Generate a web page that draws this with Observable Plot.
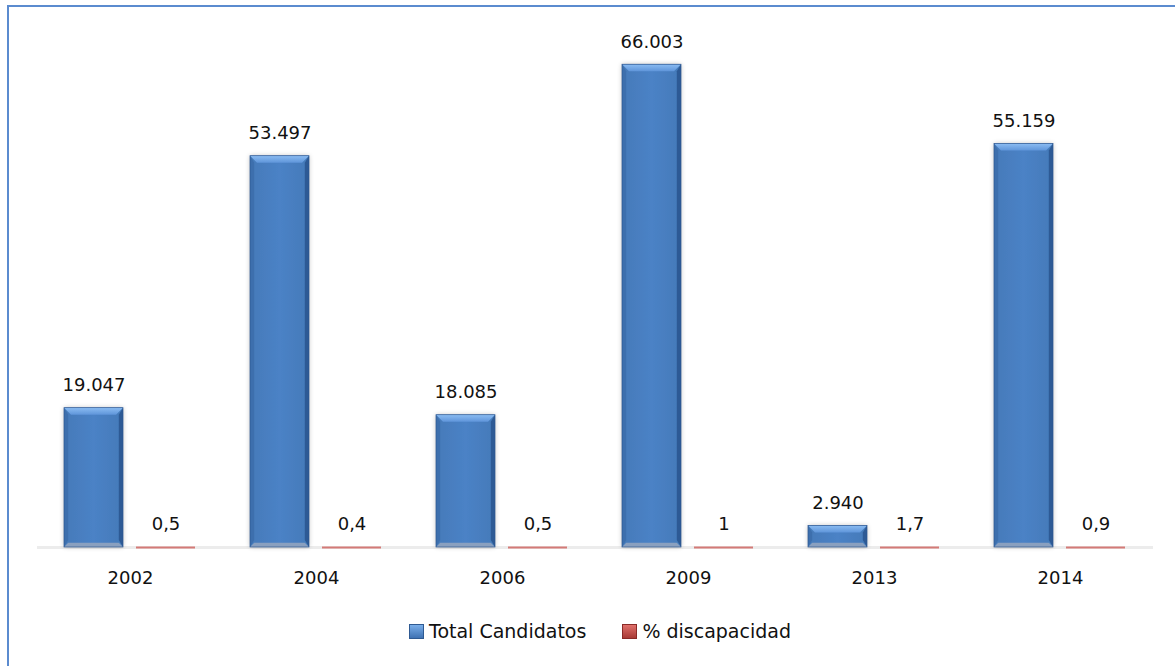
<!DOCTYPE html>
<html>
<head>
<meta charset="utf-8">
<script src="https://cdn.jsdelivr.net/npm/d3@7"></script>
<script src="https://cdn.jsdelivr.net/npm/@observablehq/plot@0.6"></script>
<style>
  html, body { margin: 0; padding: 0; background: #fff; }
  #wrap { position: relative; width: 1175px; height: 666px; overflow: hidden; font-family: "DejaVu Sans", sans-serif; }
  #frame { position: absolute; left: 7px; top: 5px; width: 1200px; height: 700px; border-left: 2px solid #5b8bcf; border-top: 2px solid #5b8bcf; box-sizing: border-box; }
  #chart { position: absolute; left: 0; top: 0; }
  #legend { position: absolute; left: 409px; top: 620px; display: flex; align-items: center; font-size: 19px; color: #111; }
  .sw { width: 15px; height: 15px; display: inline-block; margin-right: 5px; box-sizing: border-box; }
  .item { display: flex; align-items: center; }
</style>
</head>
<body>
<div id="wrap">
  <div id="frame"></div>
  <div id="chart"></div>
  <div id="legend">
    <span class="item" style="margin-right: 36px;"><span class="sw" style="background: linear-gradient(#7aaee9, #3f72b3); border: 1px solid #2f5a92;"></span>Total Candidatos</span>
    <span class="item"><span class="sw" style="background: linear-gradient(#e0706b, #a83a36); border: 1px solid #8a2a27;"></span>% discapacidad</span>
  </div>
</div>
<script>
const years = ["2002", "2004", "2006", "2009", "2013", "2014"];
const totalCandidatos = [19047, 53497, 18085, 66003, 2940, 55159];
const pctDiscapacidad = [0.5, 0.4, 0.5, 1, 1.7, 0.9];
const seriesNames = ["Total Candidatos", "% discapacidad"];

const es = d3.formatLocale({decimal: ",", thousands: ".", grouping: [3], currency: ["", "€"]});
const fmtTotal = es.format(",.0f");
const fmtPct = es.format(",.1~f");

const data = [];
years.forEach((yr, i) => {
  data.push({year: yr, series: seriesNames[0], value: totalCandidatos[i], label: fmtTotal(totalCandidatos[i])});
  data.push({year: yr, series: seriesNames[1], value: pctDiscapacidad[i], label: fmtPct(pctDiscapacidad[i])});
});
const blue = data.filter(d => d.series === seriesNames[0]);
const red = data.filter(d => d.series === seriesNames[1]);

const BLUE = "#4a7fc1";
const FONT = "'DejaVu Sans', sans-serif";

const chart = Plot.plot({
  width: 1175,
  height: 600,
  marginLeft: 37,
  marginRight: 22,
  marginTop: 35,
  marginBottom: 53,
  style: {fontFamily: FONT, background: "transparent"},
  fx: {domain: years, padding: 0, label: null, axis: null},
  x: {domain: seriesNames, paddingInner: 0.18, paddingOuter: 0.38, axis: null},
  y: {domain: [0, 70000], axis: null},
  marks: [
    Plot.ruleY([0], {stroke: "#ececec", strokeWidth: 3}),
    Plot.barY(blue, {fx: "year", x: "series", y: "value", fill: BLUE}),
    Plot.tickY(red, {fx: "year", x: "series", y: "value", stroke: "#d47a77", strokeWidth: 2}),
    Plot.text(data, {fx: "year", x: "series", y: "value", text: "label", dy: -23, fontSize: 18, fill: "#111", lineAnchor: "middle"}),
    Plot.axisFx({anchor: "bottom", tickSize: 0, tickPadding: 24, fontSize: 18, fill: "#111", label: null})
  ]
});
document.getElementById("chart").appendChild(chart);

// bevel decoration on blue bars, from the rects Plot positioned
const svg = d3.select(chart);
const defs = svg.insert("defs", ":first-child");
const g1 = defs.append("linearGradient").attr("id", "topBevel").attr("x1", 0).attr("y1", 0).attr("x2", 0).attr("y2", 1);
g1.append("stop").attr("offset", "0%").attr("stop-color", "#8bbcf2");
g1.append("stop").attr("offset", "100%").attr("stop-color", "#5f95da");
const g2 = defs.append("linearGradient").attr("id", "bodyGrad").attr("x1", 0).attr("y1", 0).attr("x2", 1).attr("y2", 0);
g2.append("stop").attr("offset", "0%").attr("stop-color", "#457ab9");
g2.append("stop").attr("offset", "50%").attr("stop-color", "#4b82c6");
g2.append("stop").attr("offset", "100%").attr("stop-color", "#447ab9");
const f = defs.append("filter").attr("id", "shadow").attr("x", "-20%").attr("y", "-20%").attr("width", "140%").attr("height", "140%");
f.append("feGaussianBlur").attr("in", "SourceAlpha").attr("stdDeviation", 2.5);
f.append("feComponentTransfer").append("feFuncA").attr("type", "linear").attr("slope", 0.25);
const fm = f.append("feMerge");
fm.append("feMergeNode");
fm.append("feMergeNode").attr("in", "SourceGraphic");

svg.selectAll(`g[fill="${BLUE}"] rect`).each(function() {
  const r = d3.select(this);
  const x = +r.attr("x"), y = +r.attr("y"), w = +r.attr("width"), h = +r.attr("height");
  const parent = d3.select(this.parentNode);
  r.attr("fill", "url(#bodyGrad)").attr("filter", "url(#shadow)");
  const b = Math.min(7, h / 2.5);
  const pts = a => a.map(p => p.join(",")).join(" ");
  parent.append("polygon").attr("points", pts([[x, y], [x + b * 0.6, y + b], [x + b * 0.6, y + h - b], [x, y + h]])).attr("fill", "#3d6fad");
  parent.append("polygon").attr("points", pts([[x + w, y], [x + w - b * 0.6, y + b], [x + w - b * 0.6, y + h - b], [x + w, y + h]])).attr("fill", "#2d5a95");
  parent.append("polygon").attr("points", pts([[x, y], [x + w, y], [x + w - b, y + b], [x + b, y + b]])).attr("fill", "url(#topBevel)");
  parent.append("polygon").attr("points", pts([[x, y + h], [x + w, y + h], [x + w - b * 0.6, y + h - b * 0.6], [x + b * 0.6, y + h - b * 0.6]])).attr("fill", "#8aa0bf");
  parent.append("rect").attr("x", x).attr("y", y).attr("width", w).attr("height", h).attr("fill", "none").attr("stroke", "#2c5691").attr("stroke-width", 0.7);
});
</script>
</body>
</html>
